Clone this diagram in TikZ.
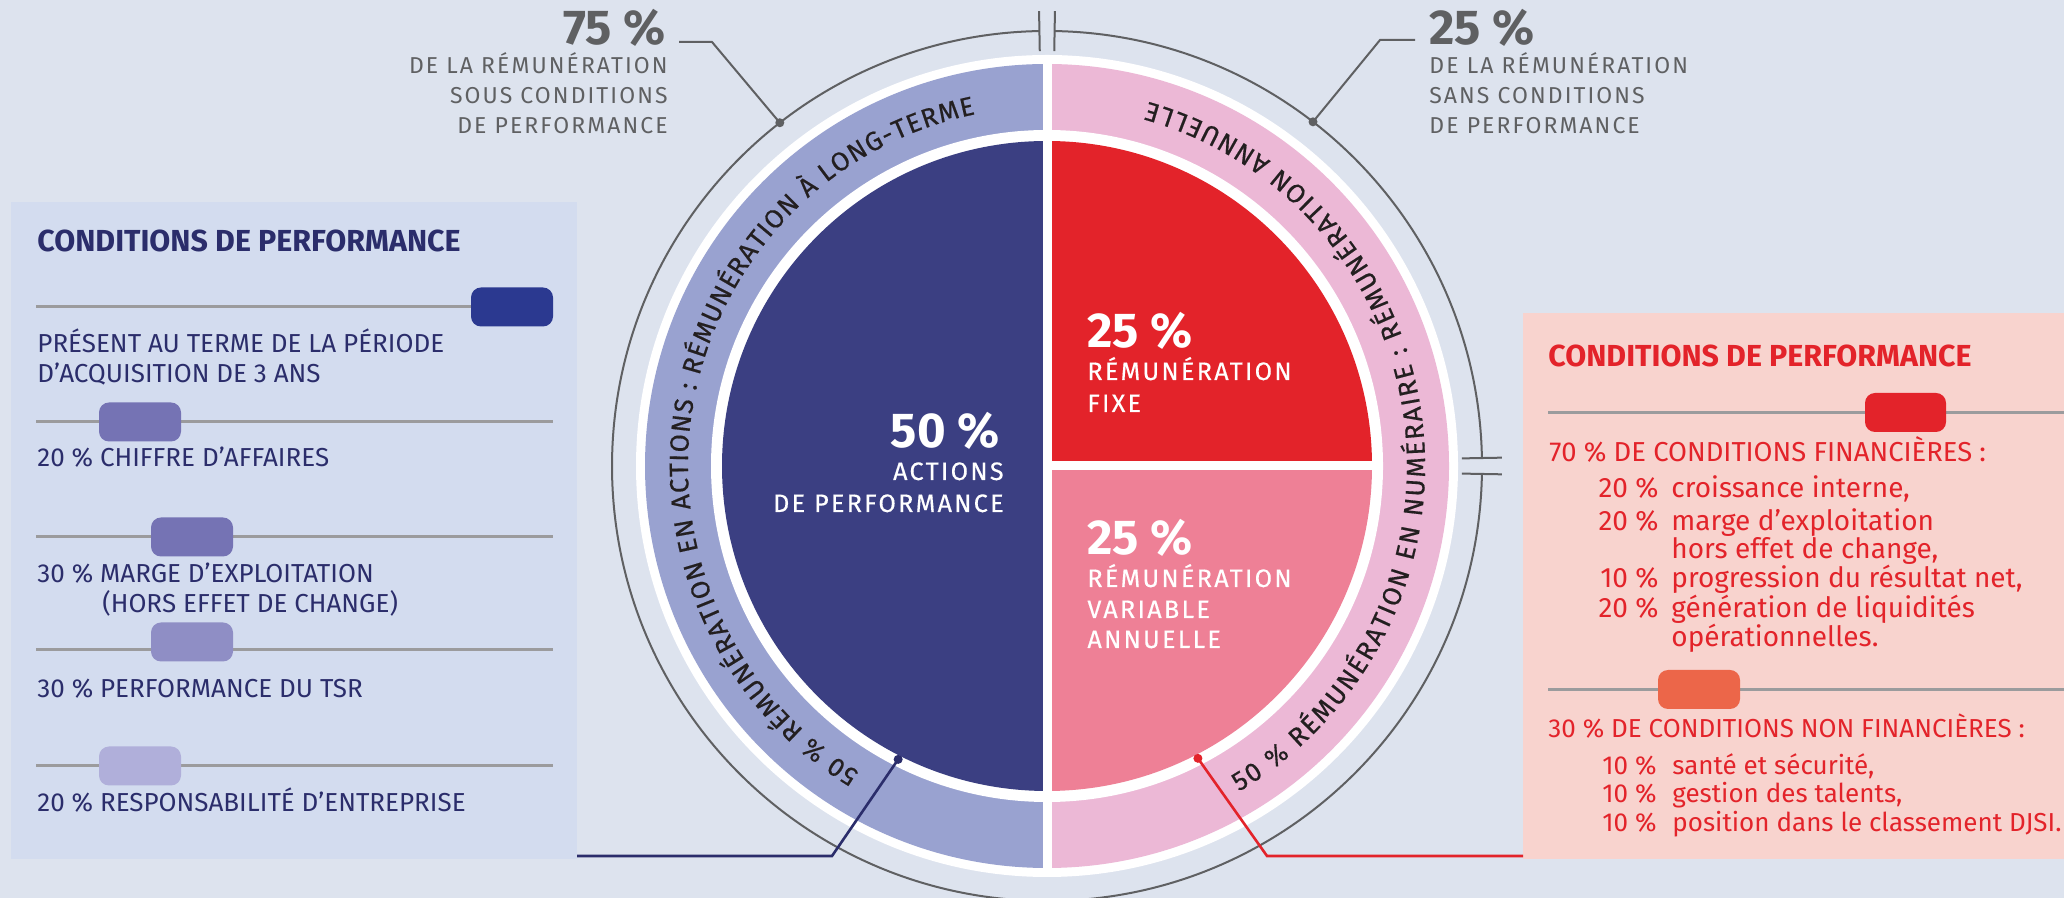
\documentclass[tikz,border=0pt]{standalone}
\usepackage{fontspec}
\setmainfont{Fira Sans}
\usetikzlibrary{decorations.text,positioning}

\definecolor{bgblue}{HTML}{DDE3EE}
\definecolor{panelblue}{HTML}{D3DCEF}
\definecolor{panelrose}{HTML}{F8D3CE}
\definecolor{navy}{HTML}{3B3F82}
\definecolor{navytext}{HTML}{2B2D6B}
\definecolor{ringblue}{HTML}{99A2D0}
\definecolor{fixred}{HTML}{E3232A}
\definecolor{varpink}{HTML}{EE8096}
\definecolor{ringpink}{HTML}{ECB8D6}
\definecolor{labelgray}{HTML}{5F6062}
\definecolor{railgray}{HTML}{9B9B9D}
\definecolor{ringtext}{HTML}{231F20}
\definecolor{knobA}{HTML}{2B3990}
\definecolor{knobB}{HTML}{7573B4}
\definecolor{knobC}{HTML}{8F8EC5}
\definecolor{knobD}{HTML}{B0AFDA}
\definecolor{knobE}{HTML}{EC6649}

\newcommand\ringfont{\fontsize{13.2}{13}\selectfont\addfontfeatures{FakeBold=0.5}\color{ringtext}}

\tikzset{
  txt/.style={inner sep=0pt, anchor=base west},
  bignum/.style={txt, font=\fontsize{24.5}{26}\selectfont\bfseries},
  graylbl/.style={txt, labelgray, font=\fontsize{11.5}{15}\selectfont\addfontfeatures{LetterSpace=9}},
  pielbl/.style={txt, white, font=\fontsize{12.6}{15}\selectfont\addfontfeatures{LetterSpace=9,FakeBold=0.4}},
  paneltitle/.style={txt, font=\fontsize{15.2}{17}\selectfont\bfseries},
  leftlbl/.style={txt, navytext, font=\fontsize{13}{15}\selectfont},
  rightlbl/.style={txt, fixred, font=\fontsize{13.7}{15}\selectfont},
  rightlist/.style={txt, fixred, font=\fontsize{14}{15}\selectfont},
  rightsmall/.style={txt, fixred, font=\fontsize{13}{15}\selectfont},
  rail/.style={draw=railgray, line width=1.5pt},
  knob/.style={rounded corners=5pt},
  arcline/.style={draw=labelgray, line width=1pt},
  dot/.style={circle, fill=#1, inner sep=0pt, minimum size=4.5pt},
  navyline/.style={draw=navytext, line width=1.3pt},
  redline/.style={draw=fixred, line width=1.3pt}
}

\begin{document}
\begin{tikzpicture}[x=0.5pt, y=0.5pt]
  \fill[bgblue] (0,0) rectangle (2064,898);
  \useasboundingbox (0,0) rectangle (2064,898);
  \fill[panelblue] (11,39) rectangle (577,696);
  \fill[panelrose] (1523,39) rectangle (2064,585);

  \coordinate (C) at (1047,432);
  % outer circle, split at the top and on the right
  \draw[arcline] ([shift={(89:435)}]C) arc[start angle=89, end angle=1.05, radius=435];
  \draw[arcline] ([shift={(-1.05:435)}]C) arc[start angle=-1.05, end angle=-269, radius=435];
  \foreach \a in {89,1.05,-1.05,91}
    \draw[arcline] ([shift={(\a:415)}]C) -- ([shift={(\a:455)}]C);

  % ring and pie
  \fill[white] (C) circle[radius=411];
  \fill[ringblue] ([shift={(90:402)}]C) arc[start angle=90, end angle=270, radius=402] -- cycle;
  \fill[ringpink] ([shift={(-90:402)}]C) arc[start angle=-90, end angle=90, radius=402] -- cycle;
  \fill[white] (C) circle[radius=336];
  \fill[navy] ([shift={(90:325)}]C) arc[start angle=90, end angle=270, radius=325] -- cycle;
  \fill[fixred] (C) -- ([shift={(0:325)}]C) arc[start angle=0, end angle=90, radius=325] -- cycle;
  \fill[varpink] (C) -- ([shift={(-90:325)}]C) arc[start angle=-90, end angle=0, radius=325] -- cycle;
  \draw[white, line width=4.5pt] ([shift={(0,411)}]C) -- ([shift={(0,-411)}]C);
  \draw[white, line width=4.5pt] (C) -- ([shift={(336,0)}]C);

  % texts along the ring
  \path[decorate, decoration={text along path, text align=fit to path,
      text={|\ringfont|50 {\%} RÉMUNÉRATION EN ACTIONS : RÉMUNÉRATION À LONG-TERME}}]
    ([shift={(238.5:359)}]C) arc[start angle=238.5, end angle=101.5, radius=359];
  \path[decorate, decoration={text along path, text align=fit to path,
      text={|\ringfont|50 {\%} RÉMUNÉRATION EN NUMÉRAIRE : RÉMUNÉRATION ANNUELLE}}]
    ([shift={(-59.5:378)}]C) arc[start angle=-59.5, end angle=74.5, radius=378];

  % pie labels
  \node[bignum, white, anchor=base east] (p50) at (1000,450) {50 \%};
  \node[pielbl, anchor=base east] (p50a) at (1004,418) {ACTIONS};
  \node[pielbl, anchor=base east] (p50b) at (1004,386) {DE PERFORMANCE};
  \node[bignum, white] (pfix) at (1087,550) {25 \%};
  \node[pielbl] (pfixa) at (1087,518) {RÉMUNÉRATION};
  \node[pielbl] (pfixb) at (1087,486) {FIXE};
  \node[bignum, white] (pvar) at (1087,343) {25 \%};
  \node[pielbl] (pvara) at (1087,311) {RÉMUNÉRATION};
  \node[pielbl] (pvarb) at (1087,280) {VARIABLE};
  \node[pielbl] (pvarc) at (1087,250) {ANNUELLE};

  % share labels above the circle
  \node[bignum, labelgray, anchor=base east] (t75) at (666,853) {75 \%};
  \foreach \ty/\tx [count=\i] in {824/DE LA RÉMUNÉRATION, 794/SOUS CONDITIONS, 764/DE PERFORMANCE}
    \node[graylbl, anchor=base east] (s75\i) at (668,\ty) {\tx};
  \node[bignum, labelgray] (t25) at (1429,853) {25 \%};
  \foreach \ty/\tx [count=\i] in {824/DE LA RÉMUNÉRATION, 794/SANS CONDITIONS, 764/DE PERFORMANCE}
    \node[graylbl] (s25\i) at (1429,\ty) {\tx};
  \node[dot=labelgray] (d75) at ([shift={(127.9:435)}]C) {};
  \node[dot=labelgray] (d25) at ([shift={(52.3:435)}]C) {};
  \coordinate (k75) at (712,856);
  \coordinate (e75) at (679,856);
  \coordinate (k25) at (1380,858);
  \coordinate (e25) at (1415,858);
  \draw[arcline] (d75.center) -- (k75) -- (e75);
  \draw[arcline] (d25.center) -- (k25) -- (e25);

  % left panel
  \node[paneltitle, navytext] (ltitle) at (37,646) {CONDITIONS DE PERFORMANCE};
  \foreach \ry/\ky/\kx/\kc in {591/591/471/knobA, 476/476/99/knobB, 361/361/151/knobB,
                               248/256/151/knobC, 132/132/99/knobD}{
    \draw[rail] (36,\ry) -- (553,\ry);
    \fill[\kc, knob] (\kx,\ky-19.5) rectangle ++(82,39);
  }
  \foreach \ty/\tx [count=\i] in {545/PRÉSENT AU TERME DE LA PÉRIODE, 515/D'ACQUISITION DE 3 ANS,
      431/20 \% CHIFFRE D’AFFAIRES, 315/30 \% MARGE D’EXPLOITATION,
      200/30 \% PERFORMANCE DU TSR, 86/20 \% RESPONSABILITÉ D'ENTREPRISE}
    \node[leftlbl] (lp\i) at (37,\ty) {\tx};
  \node[leftlbl] (lp7) at (102,285) {(HORS EFFET DE CHANGE)};

  % right panel
  \node[paneltitle, fixred] (rtitle) at (1548,531) {CONDITIONS DE PERFORMANCE};
  \draw[rail] (1548,485) -- (2064,485);
  \fill[fixred, knob] (1865,466) rectangle ++(81,39);
  \node[rightlbl] (rfin) at (1549,436) {70 \% DE CONDITIONS FINANCIÈRES :};
  \foreach \ty/\tx [count=\i] in {400/{croissance interne,}, 367/{marge d'exploitation},
      339/{hors effet de change,}, 310/{progression du résultat net,},
      280/{génération de liquidités}, 251/{opérationnelles.}}
    \node[rightlist] (rf\i) at (1671,\ty) {\tx};
  \foreach \ty/\pc [count=\i] in {400/20, 367/20, 310/10, 280/20}
    \node[rightlist, anchor=base east] (rp\i) at (1659,\ty) {\pc~\%};
  \draw[rail] (1548,208) -- (2064,208);
  \fill[knobE, knob] (1658,189) rectangle ++(82,39);
  \node[rightsmall] (rnon) at (1548,160) {30 \% DE CONDITIONS NON FINANCIÈRES :};
  \foreach \ty/\tx [count=\i] in {123/{santé et sécurité,}, 95/{gestion des talents,},
      66/{position dans le classement DJSI.}}{
    \node[rightsmall] (rn\i) at (1602,\ty) {10~\%};
    \node[rightsmall] (rm\i) at (1672,\ty) {\tx};
  }

  % connectors from the pie to the panels
  \node[dot=navytext] (dnav) at ([shift={(243.1:329)}]C) {};
  \node[dot=fixred] (dred) at ([shift={(-62.7:329)}]C) {};
  \coordinate (knav) at (832,42);
  \coordinate (enav) at (577,42);
  \coordinate (kred) at (1267,42);
  \coordinate (ered) at (1523,42);
  \draw[navyline] (dnav.center) -- (knav) -- (enav);
  \draw[redline] (dred.center) -- (kred) -- (ered);
\end{tikzpicture}
\end{document}
